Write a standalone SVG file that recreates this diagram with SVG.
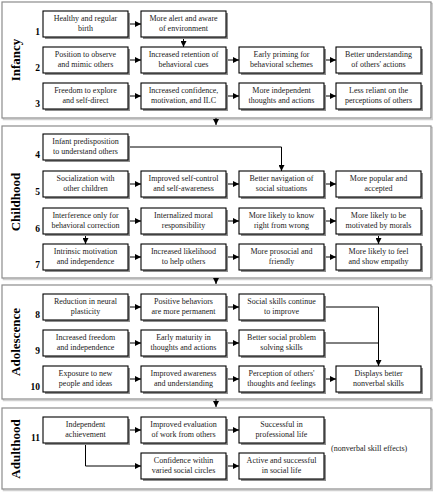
<svg xmlns="http://www.w3.org/2000/svg" width="433" height="495" viewBox="0 0 433 495">
<style>
.panel{fill:#fff;stroke:#8c8c8c;stroke-width:1.2}
.pshadow{fill:none;stroke:#d0d0d0;stroke-width:1.5}
.sh{fill:#8f8f8f}
.bx{fill:#fff;stroke:#000;stroke-width:1.1}
.t{font-family:"Liberation Serif","Times New Roman",serif;font-size:8px;fill:#1a1a1a;text-anchor:middle}
.num{font-family:"Liberation Serif","Times New Roman",serif;font-size:9.5px;font-weight:bold;fill:#000;text-anchor:end}
.stage{font-family:"Liberation Serif","Times New Roman",serif;font-size:13px;font-weight:bold;fill:#000;text-anchor:middle}
.note{font-family:"Liberation Serif","Times New Roman",serif;font-size:8px;fill:#1a1a1a}
.c{fill:none;stroke:#000;stroke-width:1}
.ca{fill:none;stroke:#000;stroke-width:1;marker-end:url(#ah)}
</style>
<defs>
<marker id="ah" markerUnits="userSpaceOnUse" markerWidth="6" markerHeight="6" refX="6" refY="3" orient="auto">
<path d="M0,0 L6,3 L0,6 z" fill="#000"/>
</marker>
</defs>
<rect width="433" height="495" fill="#fff"/>

<g id="panels">
<rect class="pshadow" x="3.5" y="3.5" width="429" height="116"/>
<rect class="panel" x="2" y="2" width="429" height="116"/>
<rect class="pshadow" x="3.5" y="127.5" width="429" height="152"/>
<rect class="panel" x="2" y="126" width="429" height="152"/>
<rect class="pshadow" x="3.5" y="286.5" width="429" height="114"/>
<rect class="panel" x="2" y="285" width="429" height="114"/>
<rect class="pshadow" x="3.5" y="409.5" width="429" height="81"/>
<rect class="panel" x="2" y="408" width="429" height="81"/>
</g>

<g id="stages">
<text class="stage" transform="translate(20,60) rotate(-90)">Infancy</text>
<text class="stage" transform="translate(20,202) rotate(-90)">Childhood</text>
<text class="stage" transform="translate(20,342) rotate(-90)">Adolescence</text>
<text class="stage" transform="translate(20,449) rotate(-90)">Adulthood</text>
</g>

<g id="numbers">
<text class="num" x="40" y="35">1</text>
<text class="num" x="40" y="71">2</text>
<text class="num" x="40" y="107">3</text>
<text class="num" x="40" y="158">4</text>
<text class="num" x="40" y="195">5</text>
<text class="num" x="40" y="232">6</text>
<text class="num" x="40" y="268">7</text>
<text class="num" x="40" y="318">8</text>
<text class="num" x="40" y="354">9</text>
<text class="num" x="40" y="390">10</text>
<text class="num" x="40" y="441">11</text>
</g>

<g id="connectors">
<!-- infancy -->
<path class="ca" d="M128,24 H141"/>
<path class="ca" d="M183.5,37 V47"/>
<path class="ca" d="M128,60 H141"/>
<path class="ca" d="M226,60 H239"/>
<path class="ca" d="M324,60 H336"/>
<path class="ca" d="M128,96 H141"/>
<path class="ca" d="M226,96 H239"/>
<path class="ca" d="M324,96 H336"/>
<path class="ca" d="M216,118 V125"/>
<!-- childhood -->
<path class="ca" d="M128,147 H281.5 V171"/>
<path class="ca" d="M128,184 H141"/>
<path class="ca" d="M226,184 H239"/>
<path class="ca" d="M324,184 H336"/>
<path class="ca" d="M128,221 H141"/>
<path class="ca" d="M226,221 H239"/>
<path class="ca" d="M324,221 H336"/>
<path class="ca" d="M85.5,234 V244"/>
<path class="ca" d="M378.5,234 V244"/>
<path class="ca" d="M128,257 H141"/>
<path class="ca" d="M226,257 H239"/>
<path class="ca" d="M324,257 H336"/>
<path class="ca" d="M216,278 V284"/>
<!-- adolescence -->
<path class="ca" d="M128,307 H141"/>
<path class="ca" d="M226,307 H239"/>
<path class="ca" d="M324,307 H378.5 V366"/>
<path class="ca" d="M128,343 H141"/>
<path class="ca" d="M226,343 H239"/>
<path class="c" d="M324,343 H378.5"/>
<path class="ca" d="M128,379 H141"/>
<path class="ca" d="M226,379 H239"/>
<path class="ca" d="M324,379 H336"/>
<path class="ca" d="M216,399 V407"/>
<!-- adulthood -->
<path class="ca" d="M128,430 H141"/>
<path class="ca" d="M226,430 H239"/>
<path class="ca" d="M85.5,443 V466 H141"/>
<path class="ca" d="M226,466 H239"/>
</g>

<!-- Infancy nodes -->
<g id="n1a"><rect class="sh" x="45" y="13" width="85" height="26"/><rect class="bx" x="43" y="11" width="85" height="26"/><text class="t" x="85.5" y="21">Healthy and regular</text><text class="t" x="85.5" y="30.5">birth</text></g>
<g id="n1b"><rect class="sh" x="143" y="13" width="85" height="26"/><rect class="bx" x="141" y="11" width="85" height="26"/><text class="t" x="183.5" y="21">More alert and aware</text><text class="t" x="183.5" y="30.5">of environment</text></g>

<g id="n2a"><rect class="sh" x="45" y="49" width="85" height="26"/><rect class="bx" x="43" y="47" width="85" height="26"/><text class="t" x="85.5" y="57">Position to observe</text><text class="t" x="85.5" y="66.5">and mimic others</text></g>
<g id="n2b"><rect class="sh" x="143" y="49" width="85" height="26"/><rect class="bx" x="141" y="47" width="85" height="26"/><text class="t" x="183.5" y="57">Increased retention of</text><text class="t" x="183.5" y="66.5">behavioral cues</text></g>
<g id="n2c"><rect class="sh" x="241" y="49" width="85" height="26"/><rect class="bx" x="239" y="47" width="85" height="26"/><text class="t" x="281.5" y="57">Early priming  for</text><text class="t" x="281.5" y="66.5">behavioral schemes</text></g>
<g id="n2d"><rect class="sh" x="338" y="49" width="85" height="26"/><rect class="bx" x="336" y="47" width="85" height="26"/><text class="t" x="378.5" y="57">Better understanding</text><text class="t" x="378.5" y="66.5">of others' actions</text></g>

<g id="n3a"><rect class="sh" x="45" y="85" width="85" height="26"/><rect class="bx" x="43" y="83" width="85" height="26"/><text class="t" x="85.5" y="93">Freedom to explore</text><text class="t" x="85.5" y="102.5">and self-direct</text></g>
<g id="n3b"><rect class="sh" x="143" y="85" width="85" height="26"/><rect class="bx" x="141" y="83" width="85" height="26"/><text class="t" x="183.5" y="93">Increased confidence,</text><text class="t" x="183.5" y="102.5">motivation, and ILC</text></g>
<g id="n3c"><rect class="sh" x="241" y="85" width="85" height="26"/><rect class="bx" x="239" y="83" width="85" height="26"/><text class="t" x="281.5" y="93">More independent</text><text class="t" x="281.5" y="102.5">thoughts and actions</text></g>
<g id="n3d"><rect class="sh" x="338" y="85" width="85" height="26"/><rect class="bx" x="336" y="83" width="85" height="26"/><text class="t" x="378.5" y="93">Less reliant on the</text><text class="t" x="378.5" y="102.5">perceptions of others</text></g>

<!-- Childhood nodes -->
<g id="n4a"><rect class="sh" x="45" y="136" width="85" height="26"/><rect class="bx" x="43" y="134" width="85" height="26"/><text class="t" x="85.5" y="144">Infant predisposition</text><text class="t" x="85.5" y="153.5">to understand others</text></g>

<g id="n5a"><rect class="sh" x="45" y="173" width="85" height="26"/><rect class="bx" x="43" y="171" width="85" height="26"/><text class="t" x="85.5" y="181">Socialization with</text><text class="t" x="85.5" y="190.5">other children</text></g>
<g id="n5b"><rect class="sh" x="143" y="173" width="85" height="26"/><rect class="bx" x="141" y="171" width="85" height="26"/><text class="t" x="183.5" y="181">Improved self-control</text><text class="t" x="183.5" y="190.5">and self-awareness</text></g>
<g id="n5c"><rect class="sh" x="241" y="173" width="85" height="26"/><rect class="bx" x="239" y="171" width="85" height="26"/><text class="t" x="281.5" y="181">Better navigation of</text><text class="t" x="281.5" y="190.5">social situations</text></g>
<g id="n5d"><rect class="sh" x="338" y="173" width="85" height="26"/><rect class="bx" x="336" y="171" width="85" height="26"/><text class="t" x="378.5" y="181">More popular and</text><text class="t" x="378.5" y="190.5">accepted</text></g>

<g id="n6a"><rect class="sh" x="45" y="210" width="85" height="26"/><rect class="bx" x="43" y="208" width="85" height="26"/><text class="t" x="85.5" y="218">Interference only for</text><text class="t" x="85.5" y="227.5">behavioral correction</text></g>
<g id="n6b"><rect class="sh" x="143" y="210" width="85" height="26"/><rect class="bx" x="141" y="208" width="85" height="26"/><text class="t" x="183.5" y="218">Internalized moral</text><text class="t" x="183.5" y="227.5">responsibility</text></g>
<g id="n6c"><rect class="sh" x="241" y="210" width="85" height="26"/><rect class="bx" x="239" y="208" width="85" height="26"/><text class="t" x="281.5" y="218">More likely to know</text><text class="t" x="281.5" y="227.5">right from wrong</text></g>
<g id="n6d"><rect class="sh" x="338" y="210" width="85" height="26"/><rect class="bx" x="336" y="208" width="85" height="26"/><text class="t" x="378.5" y="218">More likely to be</text><text class="t" x="378.5" y="227.5">motivated by morals</text></g>

<g id="n7a"><rect class="sh" x="45" y="246" width="85" height="26"/><rect class="bx" x="43" y="244" width="85" height="26"/><text class="t" x="85.5" y="254">Intrinsic motivation</text><text class="t" x="85.5" y="263.5">and independence</text></g>
<g id="n7b"><rect class="sh" x="143" y="246" width="85" height="26"/><rect class="bx" x="141" y="244" width="85" height="26"/><text class="t" x="183.5" y="254">Increased likelihood</text><text class="t" x="183.5" y="263.5">to help others</text></g>
<g id="n7c"><rect class="sh" x="241" y="246" width="85" height="26"/><rect class="bx" x="239" y="244" width="85" height="26"/><text class="t" x="281.5" y="254">More prosocial and</text><text class="t" x="281.5" y="263.5">friendly</text></g>
<g id="n7d"><rect class="sh" x="338" y="246" width="85" height="26"/><rect class="bx" x="336" y="244" width="85" height="26"/><text class="t" x="378.5" y="254">More likely to feel</text><text class="t" x="378.5" y="263.5">and show empathy</text></g>

<!-- Adolescence nodes -->
<g id="n8a"><rect class="sh" x="45" y="296" width="85" height="26"/><rect class="bx" x="43" y="294" width="85" height="26"/><text class="t" x="85.5" y="304">Reduction in neural</text><text class="t" x="85.5" y="313.5">plasticity</text></g>
<g id="n8b"><rect class="sh" x="143" y="296" width="85" height="26"/><rect class="bx" x="141" y="294" width="85" height="26"/><text class="t" x="183.5" y="304">Positive behaviors</text><text class="t" x="183.5" y="313.5">are more permanent</text></g>
<g id="n8c"><rect class="sh" x="241" y="296" width="85" height="26"/><rect class="bx" x="239" y="294" width="85" height="26"/><text class="t" x="281.5" y="304">Social skills continue</text><text class="t" x="281.5" y="313.5">to improve</text></g>

<g id="n9a"><rect class="sh" x="45" y="332" width="85" height="26"/><rect class="bx" x="43" y="330" width="85" height="26"/><text class="t" x="85.5" y="340">Increased freedom</text><text class="t" x="85.5" y="349.5">and independence</text></g>
<g id="n9b"><rect class="sh" x="143" y="332" width="85" height="26"/><rect class="bx" x="141" y="330" width="85" height="26"/><text class="t" x="183.5" y="340">Early maturity in</text><text class="t" x="183.5" y="349.5">thoughts and actions</text></g>
<g id="n9c"><rect class="sh" x="241" y="332" width="85" height="26"/><rect class="bx" x="239" y="330" width="85" height="26"/><text class="t" x="281.5" y="340">Better social problem</text><text class="t" x="281.5" y="349.5">solving skills</text></g>

<g id="n10a"><rect class="sh" x="45" y="368" width="85" height="26"/><rect class="bx" x="43" y="366" width="85" height="26"/><text class="t" x="85.5" y="376">Exposure to new</text><text class="t" x="85.5" y="385.5">people and ideas</text></g>
<g id="n10b"><rect class="sh" x="143" y="368" width="85" height="26"/><rect class="bx" x="141" y="366" width="85" height="26"/><text class="t" x="183.5" y="376">Improved awareness</text><text class="t" x="183.5" y="385.5">and understanding</text></g>
<g id="n10c"><rect class="sh" x="241" y="368" width="85" height="26"/><rect class="bx" x="239" y="366" width="85" height="26"/><text class="t" x="281.5" y="376">Perception of others'</text><text class="t" x="281.5" y="385.5">thoughts and feelings</text></g>
<g id="n10d"><rect class="sh" x="338" y="368" width="85" height="26"/><rect class="bx" x="336" y="366" width="85" height="26"/><text class="t" x="378.5" y="376">Displays better</text><text class="t" x="378.5" y="385.5">nonverbal skills</text></g>

<!-- Adulthood nodes -->
<g id="n11a"><rect class="sh" x="45" y="419" width="85" height="26"/><rect class="bx" x="43" y="417" width="85" height="26"/><text class="t" x="85.5" y="427">Independent</text><text class="t" x="85.5" y="436.5">achievement</text></g>
<g id="n11b"><rect class="sh" x="143" y="419" width="85" height="26"/><rect class="bx" x="141" y="417" width="85" height="26"/><text class="t" x="183.5" y="427">Improved evaluation</text><text class="t" x="183.5" y="436.5">of work from others</text></g>
<g id="n11c"><rect class="sh" x="241" y="419" width="85" height="26"/><rect class="bx" x="239" y="417" width="85" height="26"/><text class="t" x="281.5" y="427">Successful in</text><text class="t" x="281.5" y="436.5">professional life</text></g>
<g id="n12b"><rect class="sh" x="143" y="455" width="85" height="26"/><rect class="bx" x="141" y="453" width="85" height="26"/><text class="t" x="183.5" y="463">Confidence within</text><text class="t" x="183.5" y="472.5">varied social circles</text></g>
<g id="n12c"><rect class="sh" x="241" y="455" width="85" height="26"/><rect class="bx" x="239" y="453" width="85" height="26"/><text class="t" x="281.5" y="463">Active and successful</text><text class="t" x="281.5" y="472.5">in social life</text></g>

<g id="note"><text class="note" x="331" y="451">(nonverbal skill effects)</text></g>
</svg>
